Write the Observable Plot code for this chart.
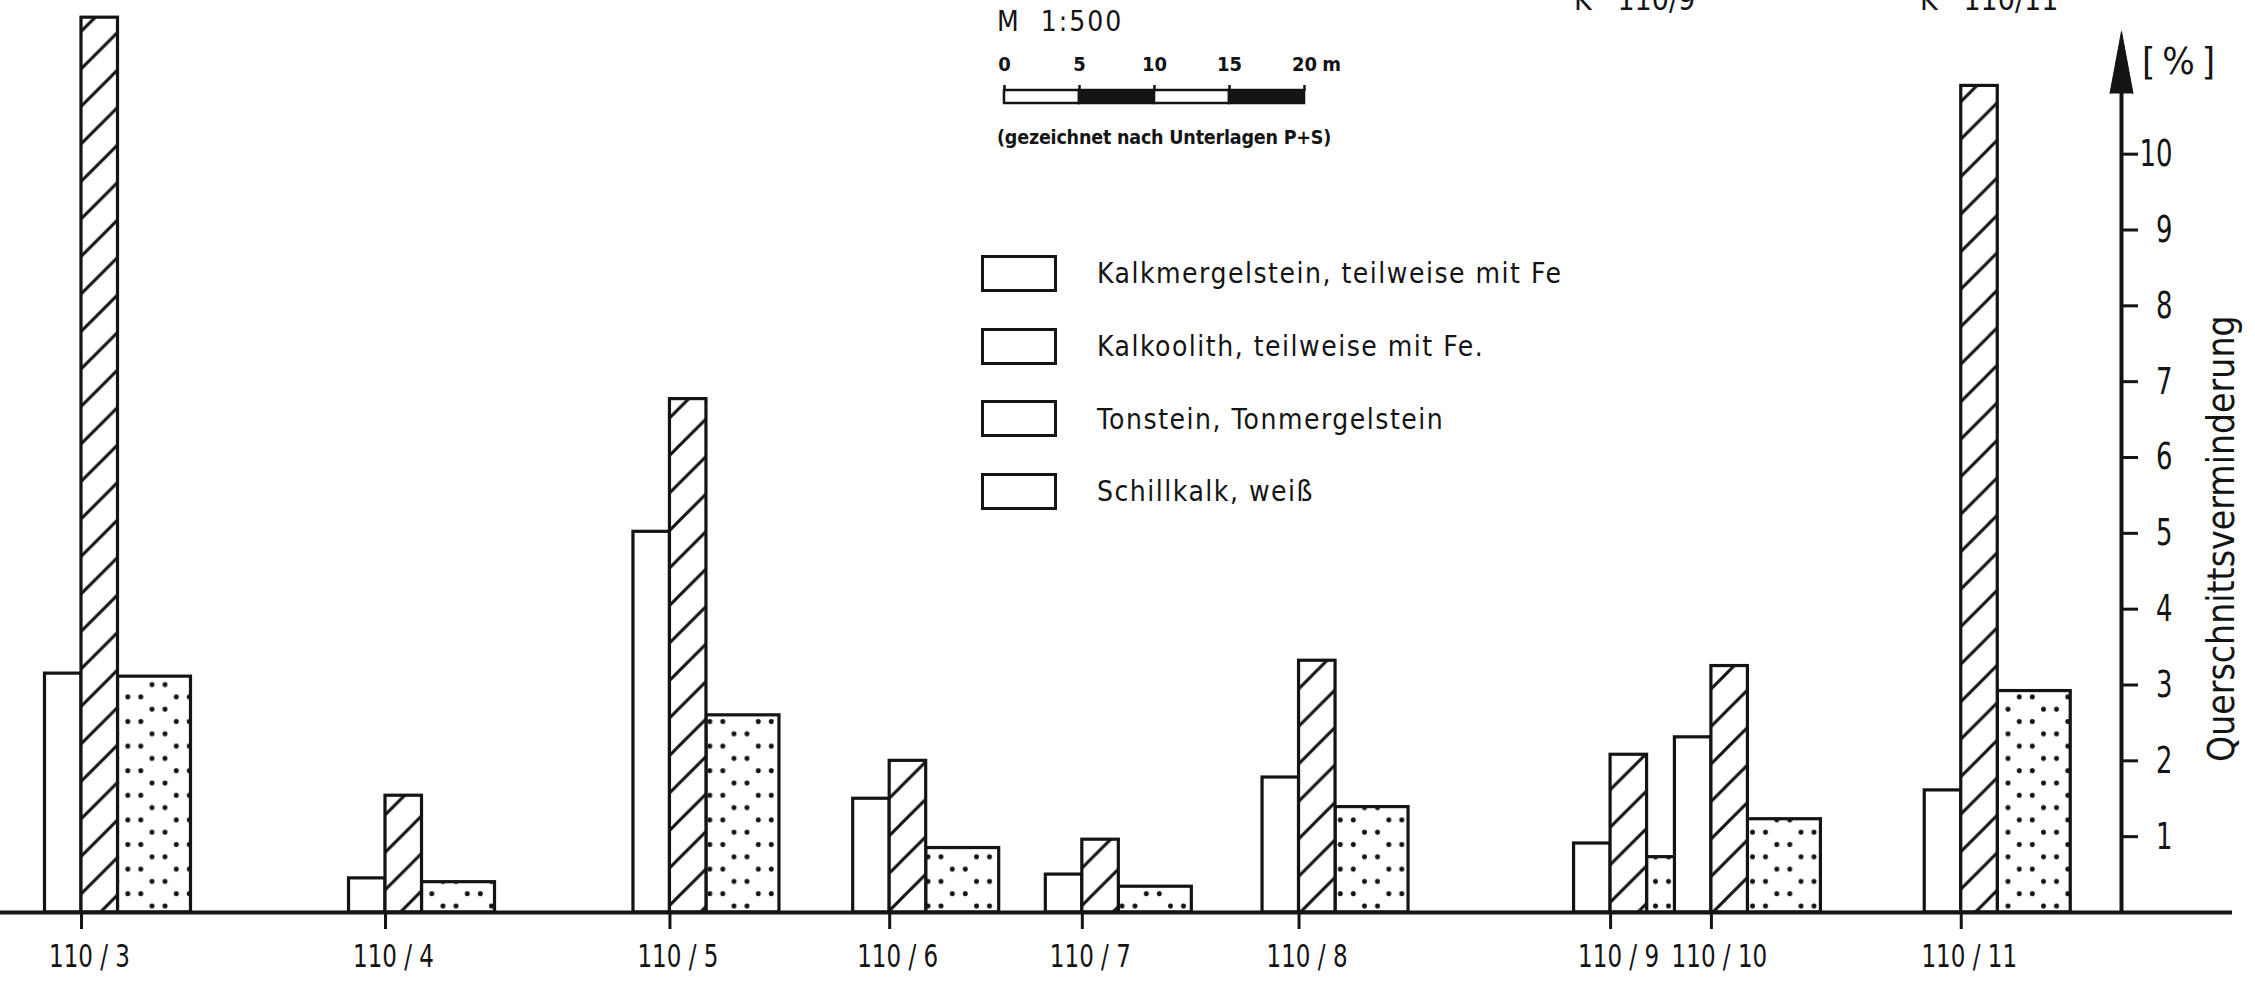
<!DOCTYPE html>
<html lang="de">
<head>
<meta charset="utf-8">
<title>Querschnittsverminderung</title>
<script src="https://cdn.jsdelivr.net/npm/d3@7"></script>
<script src="https://cdn.jsdelivr.net/npm/@observablehq/plot@0.6"></script>
<style>
  html, body { margin: 0; background: #fff; }
  #sheet { position: relative; width: 2255px; height: 981px; overflow: hidden; background: #fff; color: #141414;
    font-family: "DejaVu Sans Condensed", "DejaVu Sans", sans-serif; }
  #sheet > * { position: absolute; }
  .t { white-space: pre; line-height: 1; }
  .box { width: 76px; height: 37px; box-sizing: border-box; border: 3px solid #141414; }
</style>
</head>
<body>
<!-- fill patterns for the rock types -->
<svg width="0" height="0" style="position:absolute">
  <defs>
    <pattern id="hatch" patternUnits="userSpaceOnUse" width="37.5" height="37.5">
      <rect width="37.5" height="37.5" fill="#fff"/>
      <path d="M-4,41.5L41.5,-4M-4,4L4,-4M33.5,41.5L41.5,33.5" stroke="#141414" stroke-width="3" fill="none"/>
    </pattern>
    <pattern id="dots" patternUnits="userSpaceOnUse" x="0" y="14.4" width="48.5" height="24.6">
      <rect width="48.5" height="24.6" fill="#fff"/>
      <circle cx="6.5" cy="6" r="2.5" fill="#141414"/>
      <circle cx="19.5" cy="6" r="2.5" fill="#141414"/>
      <circle cx="30.8" cy="18.3" r="2.5" fill="#141414"/>
      <circle cx="43.8" cy="18.3" r="2.5" fill="#141414"/>
    </pattern>
  </defs>
</svg>
<div id="sheet"></div>
<script>
// Boreholes along the section and their chainage (m)
const stations = ["110 / 3", "110 / 4", "110 / 5", "110 / 6", "110 / 7", "110 / 8", "110 / 9", "110 / 10", "110 / 11"];
const chainage = [0, 20.2, 39.1, 53.7, 66.5, 80.9, 101.6, 108.3, 124.9];

// Querschnittsverminderung [%] per rock type
const kalkmergelstein = [3.15, 0.45, 5.02, 1.50, 0.50, 1.78, 0.91, 2.31, 1.61];
const kalkoolith      = [11.8, 1.54, 6.77, 2.00, 0.96, 3.32, 2.08, 3.25, 10.9];
const schillkalk      = [3.11, 0.40, 2.60, 0.85, 0.34, 1.39, 0.73, 1.23, 2.92];

const yTicks = [1, 2, 3, 4, 5, 6, 7, 8, 9, 10];
const legendLabels = [
  "Kalkmergelstein, teilweise mit Fe",
  "Kalkoolith, teilweise mit Fe.",
  "Tonstein, Tonmergelstein",
  "Schillkalk, weiß"
];
const scaleMarks = [0, 5, 10, 15, 20];

// ---- layout ----
const W = 2255, H = 981;
const ink = "#141414";
const face = '"DejaVu Sans Condensed", "DejaVu Sans", sans-serif';
const pxPerM = 15.05;            // drawing scale along the section (1:500)
const originPx = 81;             // first borehole
const marginTop = 2, marginRight = 23, marginBottom = 69;
const xDomain = [-originPx / pxPerM, (W - marginRight - originPx) / pxPerM];
const unitPx = (H - marginTop - marginBottom) / 12;
const barW = 36.5 / pxPerM;
const axisAt = (2121 - originPx) / pxPerM;
const axisTop = 10.8;

// bar table: plain, hatched and dotted bar around each borehole tick
const bars = [];
stations.forEach((s, i) => {
  const c = chainage[i];
  const next = i + 1 < chainage.length ? chainage[i + 1] : Infinity;
  bars.push({station: s, kind: "kalkmergelstein", x1: c - barW, x2: c, v: kalkmergelstein[i]});
  bars.push({station: s, kind: "kalkoolith", x1: c, x2: c + barW, v: kalkoolith[i]});
  bars.push({station: s, kind: "schillkalk", x1: c + barW, x2: Math.min(c + 3 * barW, next - barW), v: schillkalk[i]});
});
const ofKind = k => bars.filter(d => d.kind === k);

const chart = Plot.plot({
  width: W, height: H,
  marginTop, marginRight, marginBottom, marginLeft: 0,
  x: {domain: xDomain, axis: null},
  y: {domain: [0, 12], axis: null},
  style: {background: "transparent", color: ink, fontFamily: face},
  marks: [
    Plot.rect(ofKind("kalkmergelstein"), {x1: "x1", x2: "x2", y1: 0, y2: "v", fill: "#fff", stroke: ink, strokeWidth: 3.2}),
    Plot.rect(ofKind("schillkalk"), {x1: "x1", x2: "x2", y1: 0, y2: "v", fill: "url(#dots)", stroke: ink, strokeWidth: 3.2}),
    Plot.rect(ofKind("kalkoolith"), {x1: "x1", x2: "x2", y1: 0, y2: "v", fill: "url(#hatch)", stroke: ink, strokeWidth: 3.2}),
    Plot.ruleY([0], {stroke: ink, strokeWidth: 4}),
    // borehole ticks and names
    Plot.ruleX(chainage, {y1: 0, y2: -17 / unitPx, stroke: ink, strokeWidth: 3}),
    Plot.text(stations, {x: (d, i) => chainage[i], y: 0, dx: 8, dy: 44, text: d => d, fontSize: 32, fill: ink, className: "station-label"}),
    // value axis with arrow
    Plot.ruleX([axisAt], {y1: 0, y2: axisTop, stroke: ink, strokeWidth: 4}),
    Plot.ruleY(yTicks, {y: d => d, x1: axisAt, x2: axisAt + 17 / pxPerM, stroke: ink, strokeWidth: 3}),
    Plot.text(yTicks, {x: axisAt, y: d => d, dx: 51, textAnchor: "end", fontSize: 37, fill: ink, className: "value-label"}),
    Plot.vector([axisTop], {x: axisAt, y: d => d, length: 62, r: 11.5, shape: "spike", anchor: "start", fill: ink, stroke: ink, strokeWidth: 1})
  ]
});
const sheet = document.getElementById("sheet");
chart.style.left = "0px"; chart.style.top = "0px";
sheet.appendChild(chart);

// narrow the lettering of the labels, as on a plotter drawing
function squeeze(root, selector, k) {
  root.querySelectorAll(selector).forEach(t => {
    const len = t.getComputedTextLength();
    t.setAttribute("textLength", (len * k).toFixed(1));
    t.setAttribute("lengthAdjust", "spacingAndGlyphs");
  });
}
squeeze(chart, ".station-label text", 0.8);
squeeze(chart, ".value-label text", 0.78);

// text placed by its baseline
function label(text, {x, baseline, size, weight = 400, spacing = 0, scaleX = 1}) {
  const el = document.createElement("div");
  el.className = "t";
  el.textContent = text;
  Object.assign(el.style, {
    left: x + "px", top: (baseline - 0.8465 * size) + "px",
    fontSize: size + "px", fontWeight: weight, letterSpacing: spacing + "px", fontFamily: face,
    transformOrigin: "0 0", transform: `scaleX(${scaleX})`
  });
  sheet.appendChild(el);
  return el;
}

// legend
legendLabels.forEach((t, i) => {
  const top = 255 + i * 72.7;
  const b = document.createElement("div");
  b.className = "box";
  b.style.left = "981px"; b.style.top = top + "px";
  sheet.appendChild(b);
  label(t, {x: 1097, baseline: top + 29, size: 28, spacing: 1.5});
});

// scale
label("M  1:500", {x: 997, baseline: 32, size: 28, spacing: 2});
const scaleBar = Plot.plot({
  width: 360, height: 70, marginLeft: 14, marginRight: 46, marginTop: 50, marginBottom: 7,
  x: {domain: [0, 20], axis: null}, y: {axis: null},
  style: {background: "transparent", color: ink, fontFamily: face, overflow: "visible"},
  marks: [
    Plot.rect(scaleMarks.slice(0, -1), {x1: d => d, x2: d => d + 5, fill: (d, i) => (i % 2 ? ink : "#ffffff"), stroke: ink, strokeWidth: 2.5}),
    Plot.axisX(scaleMarks, {anchor: "top", tickSize: 6, tickPadding: 14, fontSize: 20, fontWeight: "bold", stroke: ink, strokeWidth: 2.5, label: null}),
    Plot.text(["m"], {x: () => 20, frameAnchor: "top", dx: 27, dy: -20, lineAnchor: "bottom", fontSize: 20, fontWeight: "bold", fill: ink})
  ]
});
scaleBar.style.left = "990px"; scaleBar.style.top = "40px";
sheet.appendChild(scaleBar);
label("(gezeichnet nach Unterlagen P+S)", {x: 997, baseline: 145, size: 19.5, weight: 700, spacing: -0.2});

// axis annotations
label("[%]", {x: 2142, baseline: 74, size: 38, spacing: 7});
const yTitle = label("Querschnittsverminderung", {x: 2203, baseline: 0, size: 37, spacing: 0});
yTitle.style.top = "762px";
yTitle.style.transform = "rotate(-90deg)";

// cross-section references along the top edge
label("K   110/9", {x: 1574, baseline: 10, size: 30});
label("K   110/11", {x: 1920, baseline: 10, size: 30});
</script>
</body>
</html>
